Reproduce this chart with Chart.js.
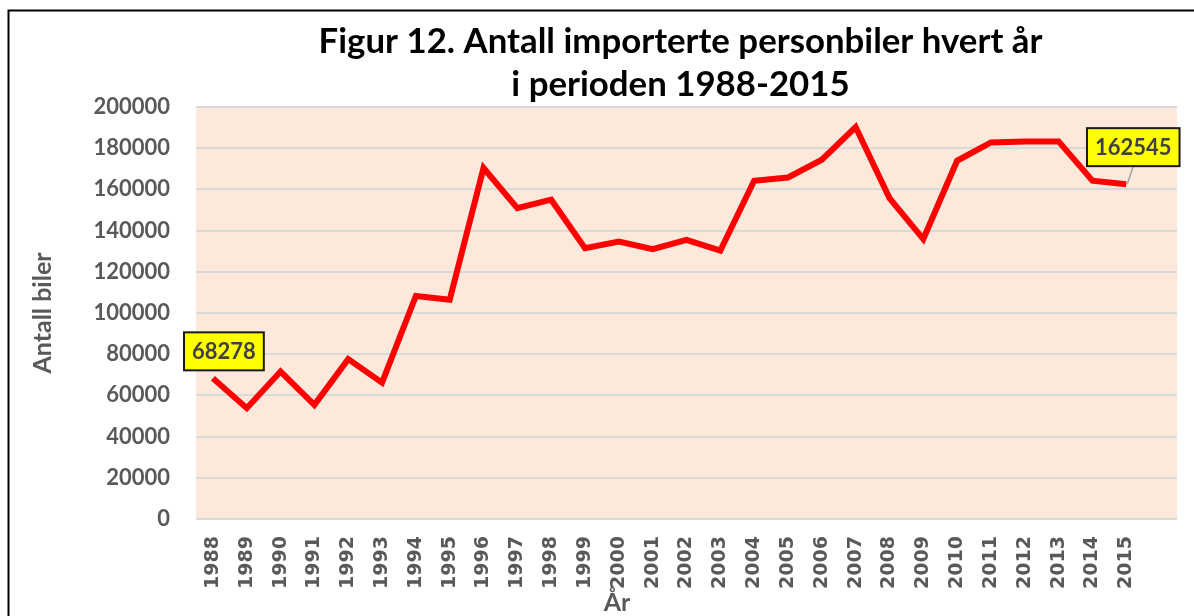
<!DOCTYPE html>
<html>
<head>
<meta charset="utf-8">
<script src="https://cdn.jsdelivr.net/npm/chart.js@4.4.0/dist/chart.umd.min.js"></script>
<style>
  html, body { margin: 0; padding: 0; background: #fff; }
  #wrap { width: 1194px; height: 616px; position: relative; }
</style>
</head>
<body>
<div id="wrap"><canvas id="bilChart" width="1194" height="616"></canvas></div>
<script>
// data
const years = ['1988', '1989', '1990', '1991', '1992', '1993', '1994', '1995', '1996', '1997', '1998', '1999', '2000', '2001',
  '2002', '2003', '2004', '2005', '2006', '2007', '2008', '2009', '2010', '2011', '2012', '2013', '2014', '2015'];
const importedCars = [68278, 53800, 71600, 55400, 77600, 66200, 108300, 106400, 170400, 150900, 155000, 131500, 134700, 131000,
  135500, 130300, 164200, 165800, 174400, 190300, 155800, 135900, 173900, 182800, 183300, 183300, 164200, 162545];
const titleLines = ['Figur 12. Antall importerte personbiler hvert år', 'i perioden 1988-2015'];
const yTitle = 'Antall biler';
const xTitle = 'År';
const labelledPoints = [0, 27]; // first and last year get a value box

// one empty slot after 2015, like the original
const xLabels = years.concat(['']);

const fontName = 'Lato, "Open Sans", sans-serif';
const greyText = '#595959';

/* =============================================================*/
// extra drawing: plot background, frame, title, axis titles, value boxes
const decorPlugin = {
  id: 'decor',
  beforeDraw(chart) {
    const ctx = chart.ctx;
    const a = chart.chartArea;
    ctx.save();
    ctx.fillStyle = '#FCE9DB';
    ctx.fillRect(a.left, a.top, a.right - a.left, a.bottom - a.top);
    ctx.restore();
  },
  afterDraw(chart) {
    const ctx = chart.ctx;
    const a = chart.chartArea;
    ctx.save();

    // frame round the whole chart (runs off right and bottom)
    ctx.strokeStyle = '#000';
    ctx.lineWidth = 2;
    ctx.beginPath();
    ctx.moveTo(1200, 10.5);
    ctx.lineTo(8.5, 10.5);
    ctx.lineTo(8.5, 620);
    ctx.stroke();

    // title, fitted to the original width
    ctx.fillStyle = '#000';
    ctx.textAlign = 'center';
    ctx.textBaseline = 'middle';
    let size = 34;
    ctx.font = 'bold ' + size + 'px ' + fontName;
    size = size * 724 / ctx.measureText(titleLines[0]).width;
    ctx.font = 'bold ' + size.toFixed(1) + 'px ' + fontName;
    const cx = (a.left + a.right) / 2 - 6;
    ctx.fillText(titleLines[0], cx, 42);
    ctx.fillText(titleLines[1], cx, 85);

    // axis titles
    ctx.fillStyle = greyText;
    ctx.font = 'bold 25px ' + fontName;
    ctx.fillText(xTitle, 617, 603);
    ctx.save();
    ctx.translate(43, (a.top + a.bottom) / 2);
    ctx.rotate(-Math.PI / 2);
    ctx.fillText(yTitle, 0, 0);
    ctx.restore();

    // value boxes
    const meta = chart.getDatasetMeta(0);
    ctx.font = 'bold 22px ' + fontName;
    labelledPoints.forEach((i, n) => {
      const pt = meta.data[i];
      const txt = String(importedCars[i]);
      const w = ctx.measureText(txt).width + 16;
      const h = 38;
      let bx, by;
      if (n === 0) {
        bx = pt.x + 11 - w / 2;
        by = pt.y - 27 - h / 2;
      } else {
        bx = pt.x + 7 - w / 2;
        by = pt.y - 37 - h / 2;
        // leader line
        ctx.strokeStyle = '#A6A6A6';
        ctx.lineWidth = 1.5;
        ctx.beginPath();
        ctx.moveTo(pt.x + 7, by + h);
        ctx.lineTo(pt.x + 1, pt.y);
        ctx.stroke();
      }
      ctx.fillStyle = '#FFFF00';
      ctx.fillRect(bx, by, w, h);
      ctx.strokeStyle = '#1a1a1a';
      ctx.lineWidth = 2;
      ctx.strokeRect(bx, by, w, h);
      ctx.fillStyle = '#404040';
      ctx.fillText(txt, bx + w / 2, by + h / 2 + 1);
    });
    ctx.restore();
  }
};

new Chart('bilChart', {
  type: 'line',
  data: {
    labels: xLabels,
    datasets: [{
      data: importedCars,
      borderColor: '#FF0000',
      borderWidth: 6,
      pointRadius: 0,
      tension: 0,
      fill: false
    }]
  },
  options: {
    responsive: false,
    animation: false,
    layout: { padding: { top: 107, right: 17, left: 0, bottom: 0 } },
    plugins: {
      legend: { display: false },
      title: { display: false },
      tooltip: { enabled: false }
    },
    scales: {
      x: {
        offset: true,
        grid: { display: false, drawTicks: false },
        border: { display: false },
        ticks: {
          autoSkip: false,
          maxRotation: 90,
          minRotation: 90,
          padding: 17,
          color: greyText,
          font: { family: 'DejaVu Sans', weight: 'bold', size: 19 }
        },
        afterFit(scale) {
          scale.height = 97;
          scale.paddingLeft = 0;
          scale.paddingRight = 0;
        }
      },
      y: {
        min: 0,
        max: 200000,
        grid: { color: '#D9D9D9', lineWidth: 2, drawTicks: false },
        border: { display: false },
        ticks: {
          stepSize: 20000,
          padding: 26,
          color: greyText,
          font: { family: fontName, weight: 'bold', size: 22 },
          callback: (v) => String(v)
        },
        afterFit(scale) { scale.width = 196; }
      }
    }
  },
  plugins: [decorPlugin]
});
</script>
</body>
</html>
